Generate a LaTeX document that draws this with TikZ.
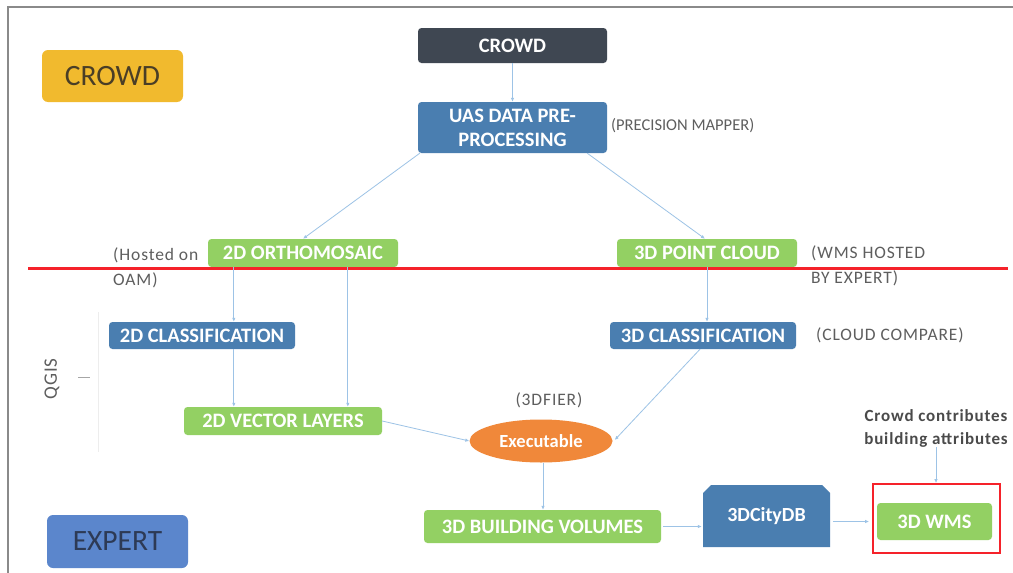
\documentclass[tikz,border=0pt]{standalone}
\usepackage{fontspec}
\setmainfont{Carlito}
\newfontfamily\notefont[LetterSpace=5]{Carlito}
\usetikzlibrary{arrows.meta,calc,shapes.geometric}

\definecolor{frame}{HTML}{8A8A8A}
\definecolor{gold}{HTML}{F1BA2E}
\definecolor{goldtext}{HTML}{4A3E26}
\definecolor{slate}{HTML}{3F4752}
\definecolor{steel}{HTML}{4A7EB0}
\definecolor{leaf}{HTML}{93D063}
\definecolor{tang}{HTML}{F0883A}
\definecolor{cobalt}{HTML}{5B86CC}
\definecolor{cobalttext}{HTML}{2D3A55}
\definecolor{link}{HTML}{9DC3E6}
\definecolor{cut}{HTML}{F5222A}
\definecolor{note}{HTML}{5E5E5E}
\definecolor{notedark}{HTML}{4A4A4A}

\tikzset{
  base/.style={rounded corners=3.5pt, inner sep=0pt, align=center, text=white,
    font=\fontsize{20.5}{24}\selectfont\bfseries},
  darkbox/.style={base, fill=slate},
  bluebox/.style={base, fill=steel},
  greenbox/.style={base, fill=leaf},
  tag/.style={rounded corners=6pt, inner sep=0pt, font=\fontsize{29.5}{32}\selectfont},
  arr/.style={draw=link, line width=0.8pt, -{Latex[length=4pt,width=3.5pt]}},
  remark/.style={inner sep=0pt, text=note, align=left,
    font=\notefont\fontsize{17.5}{25}\selectfont},
}

\begin{document}
\begin{tikzpicture}[x=1pt, y=-1pt]
\useasboundingbox (0,0) rectangle (1013,573);
\fill[white] (0,0) rectangle (1013,573);

% outer frame (top and left edges)
\draw[frame, line width=2pt] (8,573) -- (8,7) -- (1013,7);

% role tags
\node[tag, fill=gold, text=goldtext, minimum width=141pt, minimum height=52pt] (crowdtag) at (112.5,76) {CROWD};
\node[tag, fill=cobalt, text=cobalttext, minimum width=141pt, minimum height=53pt] (experttag) at (117.5,541.5) {EXPERT};

% processing chain
\node[darkbox, minimum width=189pt, minimum height=35pt] (crowd) at (512.5,45.5) {CROWD};
\node[bluebox, minimum width=189pt, minimum height=51pt] (uas) at (512.5,127.5) {UAS DATA PRE-\\PROCESSING};
\node[greenbox, minimum width=190pt, minimum height=28pt] (ortho) at (303,253) {2D ORTHOMOSAIC};
\node[greenbox, minimum width=180pt, minimum height=28pt] (pcloud) at (707,253) {3D POINT CLOUD};
\node[bluebox, minimum width=186pt, minimum height=27pt] (cls2) at (202,335.5) {2D CLASSIFICATION};
\node[bluebox, minimum width=186pt, minimum height=27pt] (cls3) at (703,335.5) {3D CLASSIFICATION};
\node[greenbox, minimum width=198pt, minimum height=28pt] (vec2) at (283,421) {2D VECTOR LAYERS};
\node[ellipse, fill=tang, inner sep=0pt, minimum width=143pt, minimum height=43pt, text=white,
  font=\fontsize{18.5}{20}\selectfont\bfseries] (exe) at (541,441) {Executable};
\node[greenbox, minimum width=237pt, minimum height=33pt] (bldg) at (542.5,526.5) {3D BUILDING VOLUMES};

% database block with cut top corners
\fill[steel] (703,547) -- (703,493) -- (711,485) -- (822,485) -- (830,493) -- (830,547) -- cycle;
\node[inner sep=0pt, minimum width=127pt, minimum height=62pt, text=white,
  font=\fontsize{20}{24}\selectfont\bfseries] (citydb) at (766.5,516) {3DCityDB};

\node[draw=cut, line width=1.8pt, minimum width=127pt, minimum height=69pt, inner sep=0pt] (wmsframe) at (936.5,518.5) {};
\node[greenbox, minimum width=115pt, minimum height=37pt] (wms) at (934.5,521.5) {3D WMS};

% crowd / expert boundary
\draw[cut, line width=3pt] (28,268) -- (1008,268);

% side remarks
\node[remark, anchor=west, font=\fontsize{16.5}{25}\selectfont] (pm) at (611,126) {(PRECISION MAPPER)};
\node[remark, anchor=west] (oam) at (113,267.5) {(Hosted on\\OAM)};
\node[remark, anchor=west] (wmsnote) at (811,266) {(WMS HOSTED\\BY EXPERT)};
\node[remark, anchor=west] (cc) at (816,335) {(CLOUD COMPARE)};
\node[remark] (fier) at (549,400) {(3DFIER)};
\node[inner sep=0pt, align=center, text=notedark, font=\notefont\fontsize{17}{23}\selectfont\bfseries] (contrib) at (936,428) {Crowd contributes\\building attributes};
\node[inner sep=0pt, text=note, rotate=90, font=\notefont\fontsize{19}{20}\selectfont] (qgis) at (52,379) {QGIS};
\draw[black!35, line width=0.7pt] (78,377) -- (90,377);
\draw[black!7, line width=0.8pt] (98,312) -- (98,452);

% connectors
\coordinate (o1) at ($(ortho.south west)+(26,0)$);
\coordinate (o2) at ($(ortho.south west)+(140,0)$);
\coordinate (e1) at ($(exe.south)+(2,0)$);
\draw[arr] (crowd.south) -- (uas.north);
\draw[arr] ($(uas.south west)+(2,0)$) -- (ortho.north);
\draw[arr] ($(uas.south east)+(-20,0)$) -- ($(pcloud.north)+(-2,0)$);
\draw[arr] (o1) -- (o1 |- cls2.north);
\draw[arr] (o1 |- cls2.south) -- (o1 |- vec2.north);
\draw[arr] (o2) -- (o2 |- vec2.north);
\draw[arr] (pcloud.south) -- (pcloud.south |- cls3.north);
\draw[arr] ($(cls3.south)+(-3,0)$) -- ($(exe.east)+(2,-1)$);
\draw[arr] (vec2.east) -- (exe.west);
\draw[arr] (e1) -- (e1 |- bldg.north);
\draw[arr] ($(bldg.east)+(2,0)$) -- ($(citydb.west |- bldg.east)+(-1,0)$);
\draw[arr] ($(citydb.east |- wms.west)+(3,0)$) -- ($(wmsframe.west |- wms.west)+(-3,0)$);
\draw[arr] (contrib.south) -- (contrib.south |- wmsframe.north);
\end{tikzpicture}
\end{document}
